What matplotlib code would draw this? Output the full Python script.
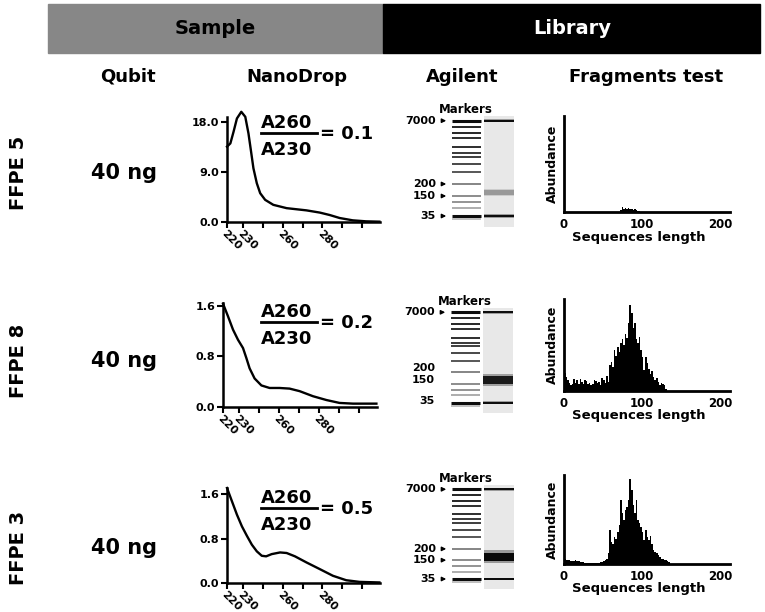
import matplotlib
matplotlib.use("Agg")
import matplotlib.pyplot as plt
from matplotlib.patches import Rectangle
from matplotlib.lines import Line2D

plt.rcParams['font.family'] = 'DejaVu Sans'
plt.rcParams['font.weight'] = 'bold'
plt.rcParams['axes.labelweight'] = 'bold'

# -------- DATA --------
samples = ['FFPE 5', 'FFPE 8', 'FFPE 3']
qubit = ['40 ng', '40 ng', '40 ng']
ratios = ['0.1', '0.2', '0.5']

# NanoDrop spectra (axis wavelength, absorbance)
wl_5 = [220, 221.7, 223.3, 225, 227.2, 229.2, 230.8, 232, 233.3, 235, 236.7, 239.2,
        243.3, 250, 260, 266.7, 271.7, 276.7, 283.3, 290, 296.7]
abs_5 = [13.6, 14.2, 16.3, 18.7, 19.9, 19.0, 16.0, 13.0, 9.7, 7.0, 5.2, 4.0,
         3.1, 2.5, 2.1, 1.7, 1.26, 0.72, 0.30, 0.12, 0.06]
wl_8 = [220, 222.5, 225, 227.5, 230, 231.7, 233.3, 235.8, 239.2, 243.3, 248.3,
        253.3, 258.3, 265, 271.7, 278.3, 285, 296.7]
abs_8 = [1.63, 1.43, 1.22, 1.06, 0.93, 0.77, 0.61, 0.45, 0.34, 0.30, 0.30,
         0.29, 0.25, 0.17, 0.11, 0.064, 0.053, 0.053]
wl_3 = [220, 222.5, 225, 227.5, 230, 232.5, 235, 237.5, 239.7, 242.5, 246.7, 250,
        254.2, 260, 266.7, 273.3, 280, 286.7, 296.7]
abs_3 = [1.71, 1.47, 1.23, 1.02, 0.85, 0.69, 0.57, 0.49, 0.48, 0.52, 0.55, 0.54,
         0.48, 0.37, 0.25, 0.13, 0.05, 0.02, 0.01]
nd_xticks = [220, 228, 238, 248, 258, 268, 278, 288]
nd_xlabels = ['220', '230', '', '260', '', '280', '', '']
nd_yticks = [[0, 9, 18], [0, 0.8, 1.6], [0, 0.8, 1.6]]
nd_ylabels = [['0.0', '9.0', '18.0'], ['0.0', '0.8', '1.6'], ['0.0', '0.8', '1.6']]
nd_ytop = [18.96, 1.64, 1.71]

# Agilent gel: marker ladder (0 = 7000 bp band, 1 = 35 bp band)
ladder_pos = [0, 0.063, 0.133, 0.185, 0.28, 0.336, 0.378, 0.455, 0.535, 0.664,
              0.79, 0.857, 0.92, 1.0, 1.035]
ladder_int = [0.95, 0.85, 0.85, 0.82, 0.82, 0.78, 0.76, 0.72, 0.66, 0.48,
              0.45, 0.42, 0.32, 0.95, 0.25]
ladder_labels = ['7000', '200', '150', '35']
label_pos = [[0, 0.664, 0.79, 1.0], [0, 0.616, 0.75, 0.978], [0, 0.664, 0.79, 1.0]]
label_arrow = [[True, True, True, True], [True, False, False, False],
               [True, True, True, True]]
band_pos = [[0, 0.755, 1.0], [0, 0.75, 1.0], [0, 0.75, 1.0]]
band_width = [[0.02, 0.05, 0.02], [0.02, 0.085, 0.02], [0.02, 0.09, 0.02]]
band_int = [[0.95, 0.4, 0.95], [0.95, 0.9, 0.95], [0.95, 0.97, 0.95]]

# Fragments test histograms (sequence length bins of 2, abundance in % of axis)
seq_len = list(range(0, 136, 2))
frag_5 = [0, 0, 0, 0, 0, 0, 0, 0, 0, 0, 0, 0, 0, 0, 0, 0, 0, 0,
          0, 0, 0, 0, 0, 0, 0, 0, 0, 0, 0, 0, 0, 0, 0, 0, 0, 0,
          2, 5, 3, 4, 3.5, 4, 3, 3.5, 2.5, 3, 2, 1.5, 1, 0.5,
          0, 0, 0, 0, 0, 0, 0, 0, 0, 0, 0, 0, 0, 0, 0, 0, 0, 0]
frag_8 = [20, 15, 12, 9, 7, 8, 13, 9, 12, 8, 13, 10, 8, 12, 11, 8, 9, 7,
          8, 12, 11, 9, 10, 7, 14, 12, 9, 16, 10, 28, 32, 26, 45, 38, 48, 42,
          52, 57, 50, 62, 58, 74, 94, 85, 68, 74, 57, 52, 59, 45, 37, 23, 37, 30,
          24, 19, 22, 15, 12, 14, 10, 7, 9, 8, 6, 2, 0, 0]
frag_3 = [6, 5, 4, 4, 3, 3, 3, 4, 3, 3, 2, 2, 2, 1.5, 1.5, 1.5, 1.5, 1.5,
          1.5, 1.5, 1.5, 1.5, 1.5, 2, 2, 3, 4, 6, 12, 38, 25, 22, 30, 28, 36, 44,
          72, 57, 50, 61, 64, 72, 95, 83, 66, 57, 72, 50, 46, 42, 36, 27, 38, 30,
          27, 31, 22, 16, 14, 12, 10, 8, 6, 6, 5, 4, 3, 2]

spectra = [(wl_5, abs_5), (wl_8, abs_8), (wl_3, abs_3)]
frags = [frag_5, frag_8, frag_3]

# -------- LAYOUT (pixels) --------
W, H = 765, 612
fig = plt.figure(figsize=(W / 100, H / 100), dpi=100)


def box(l, t, r, b):
    return [l / W, 1 - b / H, (r - l) / W, (b - t) / H]


def fy(y):
    return 1 - y / H


nd_box = [(227, 117, 380, 222), (223, 303, 377, 407), (227, 488, 380, 583)]
gel_x = [(451, 514), (450, 513), (451, 514)]
gel_y = [(120.7, 216), (312.3, 402.7), (489.3, 579)]
fr_box = [(564, 116, 730, 212), (564, 299, 730, 391), (564, 475, 730, 564)]
row_mid = [173, 361, 548]
frac_y = [123, 311.7, 498]

# -------- HEADER --------
fig.patches.append(Rectangle((48 / W, fy(53)), (383 - 48) / W, 49 / H,
                             transform=fig.transFigure, color='#878787'))
fig.patches.append(Rectangle((383 / W, fy(53)), (760 - 383) / W, 49 / H,
                             transform=fig.transFigure, color='black'))
fig.text(215 / W, fy(29), 'Sample', ha='center', va='center', fontsize=14)
fig.text(572 / W, fy(29), 'Library', ha='center', va='center', fontsize=14,
         color='white')
for x, t in [(128, 'Qubit'), (297, 'NanoDrop'), (462, 'Agilent'),
             (646, 'Fragments test')]:
    fig.text(x / W, fy(77), t, ha='center', va='center', fontsize=13)

for i in range(3):
    fig.text(18 / W, fy(row_mid[i]), samples[i], rotation=90, ha='center',
             va='center', fontsize=14)
    fig.text(124 / W, fy(row_mid[i]), qubit[i], ha='center', va='center',
             fontsize=15)

    # -------- NANODROP --------
    ax = fig.add_axes(box(*nd_box[i]))
    wl, ab = spectra[i]
    ax.plot(wl, ab, color='black', lw=1.7, clip_on=False)
    ax.set_xlim(220, 297)
    ax.set_ylim(0, nd_ytop[i])
    ax.set_xticks(nd_xticks)
    ax.set_xticklabels(nd_xlabels, rotation=-45, ha='left', va='top',
                       rotation_mode='anchor', fontsize=8, fontweight='bold')
    ax.set_yticks(nd_yticks[i])
    ax.set_yticklabels(nd_ylabels[i], fontsize=8, fontweight='bold')
    ax.tick_params(direction='out', length=4, width=1.5, pad=1.5)
    ax.tick_params(axis='x', pad=0.5)
    for s in ['top', 'right']:
        ax.spines[s].set_visible(False)
    for s in ['left', 'bottom']:
        ax.spines[s].set_linewidth(1.8)

    fy0 = frac_y[i]
    fig.text(287 / W, fy(fy0), 'A260', ha='center', va='center', fontsize=13)
    fig.text(287 / W, fy(fy0 + 27), 'A230', ha='center', va='center', fontsize=13)
    fig.add_artist(Line2D([261 / W, 317 / W], [fy(fy0 + 10), fy(fy0 + 10)],
                          color='black', lw=2))
    fig.text(320 / W, fy(fy0 + 11), '= ' + ratios[i], ha='left', va='center',
             fontsize=13)

    # -------- AGILENT --------
    g0, g1 = gel_y[i]
    span = g1 - g0
    gl, gr = gel_x[i]
    gax = fig.add_axes(box(gl, g0 - 0.05 * span, gr, g0 + 1.115 * span))
    gax.set_xlim(0, gr - gl)
    gax.set_ylim(1.115, -0.05)
    gax.axis('off')
    gax.axvspan(33, 63, color='#e8e8e8', lw=0)
    for p, v in zip(ladder_pos, ladder_int):
        lw = 2.2 if v > 0.9 else 1.4
        gax.hlines(p, 1, 30, color=str(round(1 - v, 2)), lw=lw)
    for p, w, v in zip(band_pos[i], band_width[i], band_int[i]):
        c = str(round(1 - v, 2))
        gax.fill_between([33, 63], p - w * 0.8, p + w * 0.8, color=c, alpha=0.35, lw=0)
        gax.fill_between([33, 63], p - w / 2, p + w / 2, color=c, lw=0)
    gax.text(15, -0.12, 'Markers', ha='center', va='center', fontsize=8.5,
             clip_on=False)
    for t, p, arr in zip(ladder_labels, label_pos[i], label_arrow[i]):
        gax.text(-15, p, t, ha='right', va='center', fontsize=8, clip_on=False)
        if arr:
            gax.annotate('', xy=(-2, p), xytext=(-12, p), annotation_clip=False,
                         arrowprops=dict(arrowstyle='-|>', lw=1, color='black',
                                         mutation_scale=6))

    # -------- FRAGMENTS TEST --------
    hax = fig.add_axes(box(*fr_box[i]))
    hax.bar(seq_len, frags[i], width=2, align='edge', color='black', lw=0)
    hax.set_xlim(0, 213)
    hax.set_ylim(0, 100)
    hax.set_yticks([])
    hax.set_xticks([0, 100, 200])
    hax.set_xticklabels(['0', '100', '200'], fontsize=8.5, fontweight='bold')
    hax.tick_params(length=0, pad=4)
    for s in ['top', 'right']:
        hax.spines[s].set_visible(False)
    for s in ['left', 'bottom']:
        hax.spines[s].set_linewidth(2)
    hax.set_ylabel('Abundance', fontsize=9, fontweight='bold')
    hax.yaxis.set_label_coords(-0.03, 0.5)
    hax.set_xlabel('Sequences length', fontsize=9.5, fontweight='bold')
    hax.xaxis.set_label_coords(0.45, -0.2)

fig.savefig('out.png', dpi=100)
